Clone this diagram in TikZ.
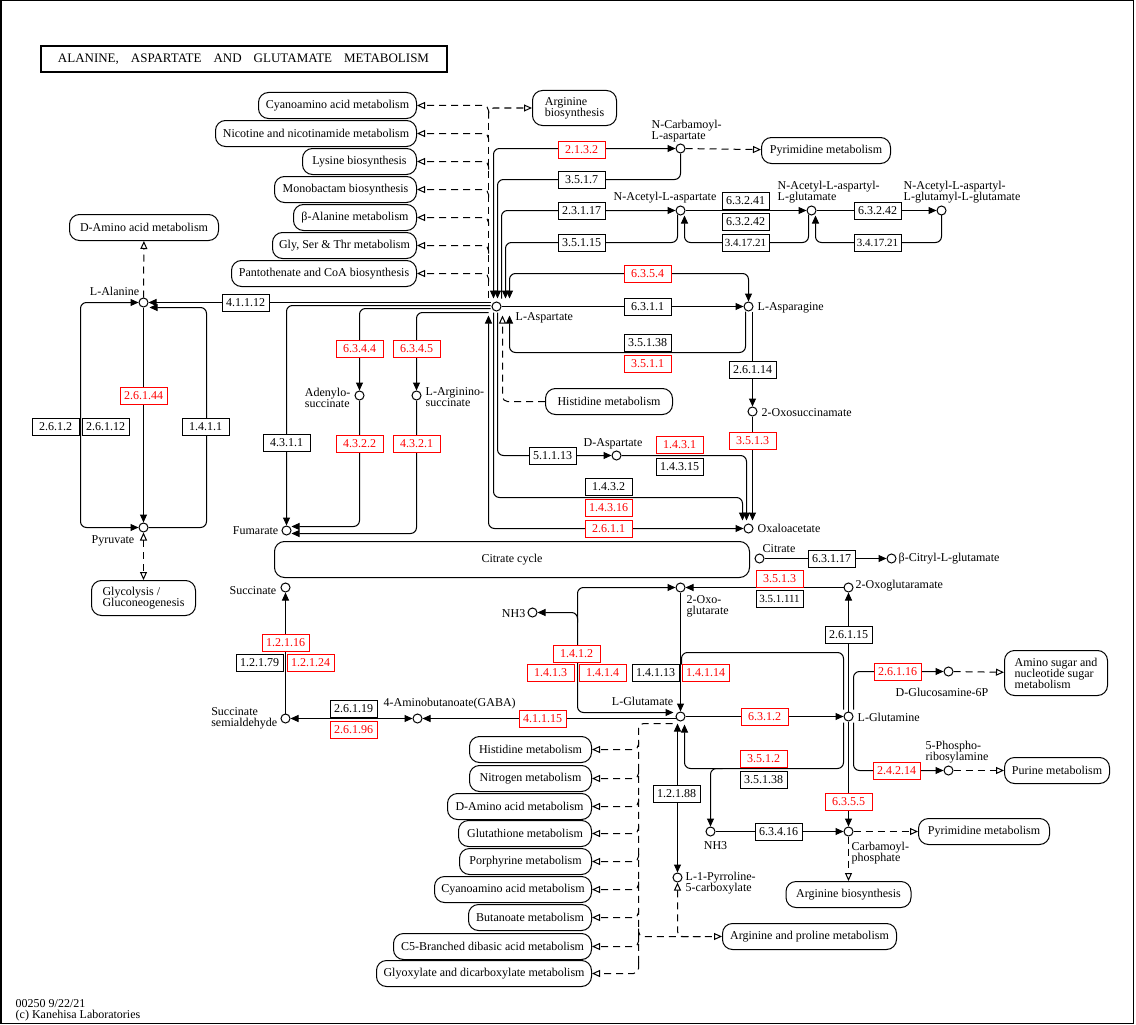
\documentclass[tikz,border=0pt]{standalone}
\usepackage{fontspec}
\setmainfont{Liberation Serif}
\usetikzlibrary{arrows.meta}
\pgfdeclarelayer{bg}
\pgfsetlayers{bg,main}
\tikzset{
  every node/.style={font=\fontsize{12}{11}\selectfont},
  cpd/.style={circle,draw,fill=white,minimum size=9pt,inner sep=0pt,line width=1pt},
  ec/.style={draw,fill=white,minimum width=47pt,minimum height=17pt,inner sep=0pt,line width=1pt},
  ecr/.style={ec,draw=red,text=red},
  ecs/.style={font=\fontsize{11}{11}\selectfont},
  mapbox/.style={draw,fill=white,rounded corners=10pt,minimum height=26pt,inner sep=0pt,line width=1pt},
  lbl/.style={inner sep=0pt,align=left},
  conn/.style={line width=1pt,rounded corners=6pt},
  ar/.style={conn,-{Triangle[length=8pt,width=7pt]}},
  ba/.style={conn,{Triangle[length=8pt,width=7pt]}-{Triangle[length=8pt,width=7pt]}},
  dsh/.style={line width=1pt,rounded corners=5pt,dash pattern=on 7pt off 5pt},
  oa/.style={dsh,-{Triangle[open,length=8pt,width=7pt]}},
  ao/.style={dsh,{Triangle[open,length=8pt,width=7pt]}-},
  boa/.style={dsh,{Triangle[open,length=8pt,width=7pt]}-{Triangle[open,length=8pt,width=7pt]}},
}
\begin{document}
\begin{tikzpicture}[x=1pt,y=-1pt]
\useasboundingbox (0,0) rectangle (1136,1025);
\draw[line width=1.5pt] (0.75,0.75) rectangle (1133.5,1023.5);
\begin{scope}[shift={(0.5,0.5)}]
\node[draw,line width=2pt,minimum width=406pt,minimum height=26pt,inner sep=0pt,font=\fontsize{13}{13}\selectfont] (title) at (243,59) {ALANINE,\hspace{12pt}ASPARTATE\hspace{12pt}AND\hspace{12pt}GLUTAMATE\hspace{12pt}METABOLISM};

% ---------- map boxes
\node[mapbox,minimum width=158pt] (m1) at (337,105) {Cyanoamino acid metabolism};
\node[mapbox,minimum width=201pt] (m2) at (315.5,133) {Nicotine and nicotinamide metabolism};
\node[mapbox,minimum width=114pt] (m3) at (359,161) {Lysine biosynthesis};
\node[mapbox,minimum width=142pt] (m4) at (345,189) {Monobactam biosynthesis};
\node[mapbox,minimum width=123pt] (m5) at (354.5,217) {β-Alanine metabolism};
\node[mapbox,minimum width=144pt] (m6) at (344,245) {Gly, Ser \& Thr metabolism};
\node[mapbox,minimum width=185pt] (m7) at (323.5,273) {Pantothenate and CoA biosynthesis};
\node[mapbox,minimum width=84pt,minimum height=35pt,align=left] (argb1) at (574,107.5) {Arginine\\biosynthesis};
\node[mapbox,minimum width=149pt] (damino1) at (143.5,227) {D-Amino acid metabolism};
\node[mapbox,minimum width=104pt,minimum height=35pt,align=left] (glyc) at (143,597.5) {Glycolysis /\\Gluconeogenesis};
\node[mapbox,minimum width=129pt] (pyrim1) at (825.5,150) {Pyrimidine metabolism};
\node[mapbox,minimum width=127pt] (his1) at (608.5,401) {Histidine metabolism};
\node[mapbox,minimum width=475pt,minimum height=36pt] (tca) at (511.5,559) {Citrate cycle};
\node[mapbox,minimum width=103pt,minimum height=45pt,align=left] (amsug) at (1055.5,672.5) {Amino sugar and\\nucleotide sugar\\metabolism};
\node[mapbox,minimum width=105pt] (purine) at (1056.5,770) {Purine metabolism};
\node[mapbox,minimum width=131pt] (pyrim2) at (983.5,831) {Pyrimidine metabolism};
\node[mapbox,minimum width=125pt] (argb2) at (848,894) {Arginine biosynthesis};
\node[mapbox,minimum width=174pt] (argpro) at (809,936) {Arginine and proline metabolism};
\node[mapbox,minimum width=122pt] (b1) at (530,749) {Histidine metabolism};
\node[mapbox,minimum width=122pt] (b2) at (530,778) {Nitrogen metabolism};
\node[mapbox,minimum width=144pt] (b3) at (519,806) {D-Amino acid metabolism};
\node[mapbox,minimum width=133pt] (b4) at (524.5,833) {Glutathione metabolism};
\node[mapbox,minimum width=132pt] (b5) at (525,861) {Porphyrine metabolism};
\node[mapbox,minimum width=157pt] (b6) at (512.5,889) {Cyanoamino acid metabolism};
\node[mapbox,minimum width=123pt] (b7) at (529.5,917) {Butanoate metabolism};
\node[mapbox,minimum width=198pt] (b8) at (492,946) {C5-Branched dibasic acid metabolism};
\node[mapbox,minimum width=215pt] (b9) at (483.5,973) {Glyoxylate and dicarboxylate metabolism};

% ---------- compounds
\node[cpd] (ala) at (143,302) {};
\node[cpd] (pyr) at (143,527) {};
\node[cpd] (asp) at (496,306) {};
\node[cpd] (ncarb) at (680,148) {};
\node[cpd] (naa) at (680,210) {};
\node[cpd] (naag) at (811,210) {};
\node[cpd] (naag2) at (941,210) {};
\node[cpd] (asn) at (748,306) {};
\node[cpd] (oxsa) at (752,411) {};
\node[cpd] (dasp) at (616,455) {};
\node[cpd] (oaa) at (748,528) {};
\node[cpd] (fum) at (286,530) {};
\node[cpd] (adsucc) at (359,395) {};
\node[cpd] (argsucc) at (416,395) {};
\node[cpd] (cit) at (759,558) {};
\node[cpd] (citglu) at (891,558) {};
\node[cpd] (succ) at (285,587) {};
\node[cpd] (ssa) at (285,718) {};
\node[cpd] (gaba) at (417,718) {};
\node[cpd] (og) at (680,587) {};
\node[cpd] (nh3a) at (532,612) {};
\node[cpd] (glu) at (680,716) {};
\node[cpd] (gln) at (848,716) {};
\node[cpd] (oxgm) at (848,587) {};
\node[cpd] (glcn6p) at (948,671) {};
\node[cpd] (pra) at (948,770) {};
\node[cpd] (cap) at (848,831) {};
\node[cpd] (nh3b) at (710,831) {};
\node[cpd] (p5c) at (677,877) {};

% ---------- compound labels
\node[lbl,anchor=east] (lala) at (139,291) {L-Alanine};
\node[lbl,anchor=east] (lpyr) at (134,540) {Pyruvate};
\node[lbl,anchor=west] (lasp) at (515,317) {L-Aspartate};
\node[lbl,anchor=west] (lncarb) at (651,130.5) {N-Carbamoyl-\\L-aspartate};
\node[lbl,anchor=west] (lnaa) at (613,197) {N-Acetyl-L-aspartate};
\node[lbl,anchor=west] (lnaag) at (777,191.5) {N-Acetyl-L-aspartyl-\\L-glutamate};
\node[lbl,anchor=west] (lnaag2) at (903,191.5) {N-Acetyl-L-aspartyl-\\L-glutamyl-L-glutamate};
\node[lbl,anchor=west] (lasn) at (757,307) {L-Asparagine};
\node[lbl,anchor=west] (loxsa) at (761,412) {2-Oxosuccinamate};
\node[lbl,anchor=west] (ldasp) at (583,443) {D-Aspartate};
\node[lbl,anchor=west] (loaa) at (757,528) {Oxaloacetate};
\node[lbl,anchor=east] (lfum) at (278,530) {Fumarate};
\node[lbl,anchor=east] (ladsucc) at (350,397) {Adenylo-\\succinate};
\node[lbl,anchor=west] (largsucc) at (425,397) {L-Arginino-\\succinate};
\node[lbl,anchor=west] (lcit) at (762,548) {Citrate};
\node[lbl,anchor=west] (lcitglu) at (898,558) {β-Citryl-L-glutamate};
\node[lbl,anchor=east] (lsucc) at (276,590) {Succinate};
\node[lbl,anchor=east] (lssa) at (277,717.5) {Succinate\\semialdehyde};
\node[lbl,anchor=west] (lgaba) at (383,703) {4-Aminobutanoate(GABA)};
\node[lbl,anchor=east] (lnh3a) at (525,613) {NH3};
\node[lbl,anchor=west] (log) at (686,606) {2-Oxo-\\glutarate};
\node[lbl,anchor=east] (lglu) at (673,701) {L-Glutamate};
\node[lbl,anchor=west] (lgln) at (857,717) {L-Glutamine};
\node[lbl,anchor=west] (loxgm) at (855,585) {2-Oxoglutaramate};
\node[lbl,anchor=west] (lglcn6p) at (895,692) {D-Glucosamine-6P};
\node[lbl,anchor=west] (lpra) at (925,751.5) {5-Phospho-\\ribosylamine};
\node[lbl,anchor=west] (lcap) at (851,852.5) {Carbamoyl-\\phosphate};
\node[lbl] (lnh3b) at (715,845) {NH3};
\node[lbl,anchor=west] (lp5c) at (685,882.5) {L-1-Pyrroline-\\5-carboxylate};
\node[lbl,anchor=west] (foot) at (15,1009.5) {00250 9/22/21\\(c) Kanehisa Laboratories};

% ---------- enzymes
\node[ec] (e41112) at (245,302) {4.1.1.12};
\node[ec] (e2612) at (55,426) {2.6.1.2};
\node[ec] (e26112) at (105,426) {2.6.1.12};
\node[ecr] (e26144) at (143,395) {2.6.1.44};
\node[ec] (e1411) at (205,426) {1.4.1.1};
\node[ecr] (e6344) at (359,348) {6.3.4.4};
\node[ecr] (e6345) at (416,348) {6.3.4.5};
\node[ec] (e4311) at (286,442) {4.3.1.1};
\node[ecr] (e4322) at (359,443) {4.3.2.2};
\node[ecr] (e4321) at (416,443) {4.3.2.1};
\node[ecr] (e2132) at (581,149) {2.1.3.2};
\node[ec] (e3517) at (581,179) {3.5.1.7};
\node[ec] (e23117) at (581,210) {2.3.1.17};
\node[ec] (e35115) at (581,242) {3.5.1.15};
\node[ec] (e63241) at (745,200) {6.3.2.41};
\node[ec] (e63242a) at (745,221) {6.3.2.42};
\node[ec,ecs] (e341721a) at (745,242) {3.4.17.21};
\node[ec] (e63242b) at (877,210) {6.3.2.42};
\node[ec,ecs] (e341721b) at (877,242) {3.4.17.21};
\node[ecr] (e6354) at (647,273) {6.3.5.4};
\node[ec] (e6311) at (647,306) {6.3.1.1};
\node[ec] (e35138a) at (647,342) {3.5.1.38};
\node[ecr] (e3511) at (647,363) {3.5.1.1};
\node[ec] (e26114) at (752,369) {2.6.1.14};
\node[ecr] (e3513a) at (752,440) {3.5.1.3};
\node[ec] (e51113) at (552,455) {5.1.1.13};
\node[ecr] (e1431) at (679,444) {1.4.3.1};
\node[ec] (e14315) at (679,466) {1.4.3.15};
\node[ec] (e1432) at (608,486) {1.4.3.2};
\node[ecr] (e14316) at (608,507) {1.4.3.16};
\node[ecr] (e2611) at (608,528) {2.6.1.1};
\node[ec] (e63117) at (831,558) {6.3.1.17};
\node[ecr] (e3513b) at (779,578) {3.5.1.3};
\node[ec,ecs] (e351111) at (779,598) {3.5.1.111};
\node[ec] (e26115) at (848,634) {2.6.1.15};
\node[ecr] (e12116) at (285,642) {1.2.1.16};
\node[ec] (e12179) at (259,662) {1.2.1.79};
\node[ecr] (e12124) at (310,662) {1.2.1.24};
\node[ec] (e26119) at (353,708) {2.6.1.19};
\node[ecr] (e26196) at (353,729) {2.6.1.96};
\node[ecr] (e41115) at (542,718) {4.1.1.15};
\node[ecr] (e1412) at (576,653) {1.4.1.2};
\node[ecr] (e1413) at (550,672) {1.4.1.3};
\node[ecr] (e1414) at (602,672) {1.4.1.4};
\node[ec] (e14113) at (655,672) {1.4.1.13};
\node[ecr] (e14114) at (705,672) {1.4.1.14};
\node[ecr] (e6312) at (764,716) {6.3.1.2};
\node[ecr] (e26116) at (897,671) {2.6.1.16};
\node[ecr] (e3512) at (763,758) {3.5.1.2};
\node[ec] (e35138b) at (763,779) {3.5.1.38};
\node[ecr] (e24214) at (896,770) {2.4.2.14};
\node[ecr] (e6355) at (848,801) {6.3.5.5};
\node[ec] (e63416) at (778,831) {6.3.4.16};
\node[ec] (e12188) at (676,793) {1.2.1.88};

\begin{pgfonlayer}{bg}
% L-Alanine / Pyruvate
\draw[ar] (490,302) -- (ala);
\draw[ar] (pyr) -| (206,307) -- (149,307);
\draw[ba] (ala) -| (80,414) |- (pyr);
\draw[ar] (ala) -- (pyr);
\draw[oa] (ala) -- (damino1);
\draw[boa] (pyr) -- (glyc);
% L-Aspartate to the left
\draw[ar] (490,305) -| (fum);
\draw[ar] (490,308) -| (adsucc);
\draw[ar] (488,312) -| (argsucc);
\draw[ar] (adsucc) |- (291,526);
\draw[ar] (argsucc) |- (291,533);
% L-Aspartate upwards
\draw[ba] (493,298) |- (ncarb);
\draw[ar] (ncarb) |- (497,179) -- (497,298);
\draw[ar] (501,298) |- (naa);
\draw[ar] (677,214) |- (505,242) -- (505,298);
\draw[ar] (naa) -- (naag);
\draw[ar] (808,214) |- (684,242) -- (684,215);
\draw[ar] (naag) -- (naag2);
\draw[ar] (941,214) |- (815,242) -- (815,215);
\draw[oa] (ncarb) -- (pyrim1);
\draw[ba] (509,298) |- (748,273) -- (asn);
\draw[ar] (asp) -- (asn);
\draw[ar] (745,311) |- (509,352) -- (509,315);
\draw[ar] (752,311) -- (oxsa);
\draw[ar] (oxsa) -- (752,520);
% L-Aspartate downwards
\draw[ar] (497,312) |- (dasp);
\draw[ar] (dasp) -| (746,520);
\draw[ar] (493,312) |- (742,497) -- (742,520);
\draw[ba] (488,315) |- (oaa);
\draw[oa] (his1) -| (502,315);
% dashed trunk top
\draw[dsh] (488,110) -- (488,299);
\draw[oa] (488,118) |- (argb1);
\draw[oa] (488,113) |- (m1);
\draw[oa] (488,141) |- (m2);
\draw[oa] (488,169) |- (m3);
\draw[oa] (488,197) |- (m4);
\draw[oa] (488,225) |- (m5);
\draw[oa] (488,253) |- (m6);
\draw[oa] (488,281) |- (m7);
% citrate
\draw[ar] (cit) -- (citglu);
% succinate / GABA
\draw[ar] (ssa) -- (succ);
\draw[ba] (gaba) -- (ssa);
\draw[ar] (676,718) -- (gaba);
% glutamate
\draw[ba] (og) -| (577,712) -- (673,712);
\draw[ar] (577,622) |- (nh3a);
\draw[ar] (og) -- (glu);
\draw[conn] (843,709) |- (681,652) -- (681,664);
\draw[ar] (glu) -- (gln);
\draw[ar] (gln) -- (oxgm);
\draw[ar] (oxgm) -- (og);
\draw[ar] (853,709) |- (glcn6p);
\draw[oa] (glcn6p) -- (amsug);
\draw[ar] (843,722) |- (684,768) -- (684,724);
\draw[ar] (722,768) -| (nh3b);
\draw[ar] (gln) -- (cap);
\draw[ar] (853,722) |- (pra);
\draw[oa] (pra) -- (purine);
\draw[ar] (nh3b) -- (cap);
\draw[oa] (cap) -- (pyrim2);
\draw[oa] (cap) -- (argb2);
\draw[ba] (677,723) -- (p5c);
% dashed trunk bottom
\draw[dsh] (672,723) -| (638,966);
\draw[oa] (638,741) |- (b1);
\draw[oa] (638,770) |- (b2);
\draw[oa] (638,798) |- (b3);
\draw[oa] (638,825) |- (b4);
\draw[oa] (638,853) |- (b5);
\draw[oa] (638,881) |- (b6);
\draw[oa] (638,909) |- (b7);
\draw[oa] (638,938) |- (b8);
\draw[oa] (638,962) |- (b9);
\draw[oa] (638,928) |- (argpro);
\draw[ao] (p5c) |- (700,936);
\end{pgfonlayer}
\end{scope}
\end{tikzpicture}
\end{document}
